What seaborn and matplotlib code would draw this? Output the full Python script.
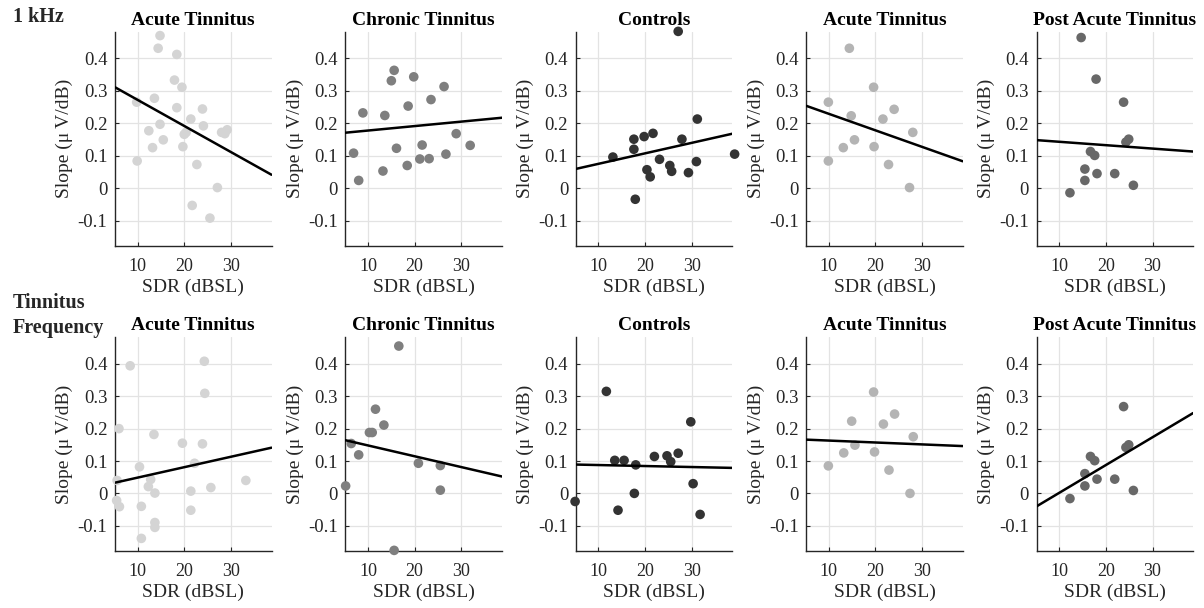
import numpy as np
import pandas as pd
import matplotlib
matplotlib.use("Agg")
import matplotlib.pyplot as plt
import seaborn as sns

# ---------------- data ----------------
groups = ["Acute Tinnitus", "Chronic Tinnitus", "Controls", "Acute Tinnitus", "Post Acute Tinnitus"]
row_labels = ["1 kHz", "Tinnitus Frequency"]
group_colors = ["#d4d4d4", "#7f7f7f", "#333333", "#b4b4b4", "#686868"]

# Row 1: 1 kHz
k_acute_x = [14.8, 14.4, 18.4, 17.9, 19.5, 13.6, 9.8, 18.4, 23.9, 21.4, 14.8, 24.1, 12.4, 20.0, 20.4,
             28.0, 28.7, 29.2, 15.5, 13.2, 19.7, 9.9, 22.7, 27.1, 21.7, 25.5]
k_acute_y = [0.470, 0.431, 0.412, 0.333, 0.311, 0.277, 0.265, 0.248, 0.244, 0.213, 0.197, 0.192, 0.177, 0.166, 0.172,
             0.172, 0.168, 0.180, 0.149, 0.125, 0.128, 0.084, 0.073, 0.002, -0.053, -0.092]
k_chronic_x = [15.6, 15.0, 19.8, 8.9, 13.6, 18.6, 23.5, 26.3, 6.9, 8.0, 13.2, 16.1, 18.4, 21.6, 21.1, 23.1, 26.7, 28.9, 31.9]
k_chronic_y = [0.363, 0.331, 0.343, 0.232, 0.224, 0.253, 0.273, 0.313, 0.108, 0.024, 0.053, 0.123, 0.070, 0.133, 0.090,
               0.091, 0.105, 0.168, 0.132]
k_control_x = [27.1, 13.1, 17.6, 17.6, 19.8, 21.7, 27.9, 31.2, 23.1, 20.4, 21.1, 25.3, 25.7, 29.3, 31.0, 17.9, 39.2]
k_control_y = [0.483, 0.096, 0.151, 0.120, 0.159, 0.169, 0.151, 0.213, 0.089, 0.057, 0.035, 0.070, 0.052, 0.048, 0.082,
               -0.034, 0.105]
k_acute2_x = [14.4, 19.6, 9.9, 14.8, 24.0, 21.6, 28.0, 15.5, 13.1, 19.7, 9.9, 22.8, 27.3]
k_acute2_y = [0.431, 0.311, 0.265, 0.223, 0.243, 0.213, 0.172, 0.149, 0.125, 0.128, 0.084, 0.073, 0.002]
k_post_x = [14.7, 17.9, 23.8, 24.9, 24.3, 16.7, 17.6, 15.5, 18.1, 21.9, 15.5, 25.9, 12.3]
k_post_y = [0.464, 0.336, 0.265, 0.151, 0.142, 0.113, 0.101, 0.059, 0.045, 0.045, 0.024, 0.009, -0.014]

# Row 2: tinnitus frequency
t_acute_x = [8.4, 24.3, 24.4, 6.0, 13.5, 19.6, 23.9, 22.2, 10.4, 5.6, 12.8, 12.3, 13.7, 21.4, 25.7, 33.2,
             5.5, 6.1, 10.8, 21.4, 13.7, 13.7, 10.8]
t_acute_y = [0.394, 0.408, 0.309, 0.200, 0.182, 0.155, 0.153, 0.093, 0.082, 0.040, 0.043, 0.021, 0.001, 0.007, 0.018, 0.040,
             -0.022, -0.041, -0.040, -0.052, -0.090, -0.105, -0.139]
t_chronic_x = [16.6, 11.6, 13.4, 10.3, 10.9, 6.4, 8.0, 5.2, 20.8, 25.5, 25.5, 15.6]
t_chronic_y = [0.455, 0.260, 0.211, 0.188, 0.188, 0.154, 0.119, 0.023, 0.093, 0.086, 0.010, -0.176]
t_control_x = [11.7, 29.8, 13.5, 15.5, 18.0, 22.0, 24.7, 25.5, 27.1, 17.7, 5.0, 14.2, 30.3, 31.8]
t_control_y = [0.315, 0.221, 0.102, 0.102, 0.088, 0.114, 0.116, 0.098, 0.124, 0.000, -0.025, -0.052, 0.030, -0.065]
t_acute2_x = [9.9, 13.2, 14.9, 15.6, 19.6, 19.8, 21.7, 22.9, 24.1, 27.4, 28.1]
t_acute2_y = [0.085, 0.125, 0.223, 0.149, 0.313, 0.128, 0.214, 0.072, 0.245, 0.000, 0.175]
t_post_x = [12.3, 15.5, 15.5, 16.7, 17.6, 18.1, 21.9, 23.8, 24.3, 24.9, 25.9]
t_post_y = [-0.016, 0.023, 0.061, 0.114, 0.101, 0.044, 0.044, 0.268, 0.142, 0.150, 0.009]

# Regression lines shown in the reference: intercept, slope
k_fit_intercept = [0.3523, 0.1639, 0.0428, 0.2800, 0.1535]
k_fit_slope = [-0.00803, 0.001373, 0.00323, -0.00509, -0.001047]
t_fit_intercept = [0.0165, 0.1814, 0.0906, 0.1690, -0.0842]
t_fit_slope = [0.00322, -0.00334, -0.000307, -0.000592, 0.008585]

x_ticks = [10, 20, 30]
y_ticks = [-0.1, 0, 0.1, 0.2, 0.3, 0.4]
y_tick_labels = ["-0.1", "0", "0.1", "0.2", "0.3", "0.4"]
x_label = "SDR (dBSL)"
y_label = "Slope (\u03bc\u2009V/dB)"

rows = [
    [(k_acute_x, k_acute_y), (k_chronic_x, k_chronic_y), (k_control_x, k_control_y),
     (k_acute2_x, k_acute2_y), (k_post_x, k_post_y)],
    [(t_acute_x, t_acute_y), (t_chronic_x, t_chronic_y), (t_control_x, t_control_y),
     (t_acute2_x, t_acute2_y), (t_post_x, t_post_y)],
]
fits = [(k_fit_intercept, k_fit_slope), (t_fit_intercept, t_fit_slope)]

# ---------------- style ----------------
sns.set_theme(style="white")
plt.rcParams["font.family"] = ["Liberation Serif", "DejaVu Serif"]

W, H = 1204, 608
fig = plt.figure(figsize=(W / 100, H / 100), dpi=100)

ax_w = 156.5
col_left = [115 + i * 230.4 for i in range(5)]
row_top = [31.7, 337.3]
row_bottom = [245.7, 550.7]

text_col = "#262626"

for r in range(2):
    for c in range(5):
        left = col_left[c] / W
        bottom = 1 - row_bottom[r] / H
        height = (row_bottom[r] - row_top[r]) / H
        ax = fig.add_axes([left, bottom, ax_w / W, height])
        xs, ys = rows[r][c]
        df = pd.DataFrame({"SDR": xs, "Slope": ys})
        sns.scatterplot(data=df, x="SDR", y="Slope", ax=ax, color=group_colors[c],
                        s=48, edgecolor="none", linewidth=0, clip_on=False, zorder=3)
        b0, b1 = fits[r][0][c], fits[r][1][c]
        ax.axline((0, b0), slope=b1, color="black", lw=1.8, zorder=4)
        ax.set_xlim(5.15, 38.7)
        ax.set_ylim(-0.177, 0.482)
        ax.set_xticks(x_ticks)
        ax.set_yticks(y_ticks)
        ax.set_yticklabels(y_tick_labels)
        ax.grid(True, color="#e3e3e3", lw=0.9)
        ax.set_axisbelow(True)
        for side in ["top", "right"]:
            ax.spines[side].set_visible(False)
        for side in ["left", "bottom"]:
            ax.spines[side].set_color("#262626")
            ax.spines[side].set_linewidth(1.0)
        ax.tick_params(axis="x", direction="in", length=3, width=0.8, pad=8.5,
                       labelsize=13, colors=text_col, bottom=True)
        ax.tick_params(axis="y", direction="in", length=3, width=0.8, pad=5.5,
                       labelsize=13.5, colors=text_col, left=True)
        ax.set_xlabel(x_label, fontsize=14, color=text_col, labelpad=3)
        ax.set_ylabel(y_label, fontsize=14, color=text_col, labelpad=3)
        ax.set_title(groups[c], fontsize=14, fontweight="bold", color="black", pad=5)

fig.text(13 / W, 1 - 21.7 / H, row_labels[0], fontsize=14.5, fontweight="bold",
         ha="left", va="baseline")
first, second = row_labels[1].split(" ")
fig.text(13 / W, 1 - 308.5 / H, first, fontsize=14.5, fontweight="bold", ha="left", va="baseline")
fig.text(13 / W, 1 - 333.3 / H, second, fontsize=14.5, fontweight="bold", ha="left", va="baseline")

fig.savefig("out.png", dpi=100, facecolor="white")
